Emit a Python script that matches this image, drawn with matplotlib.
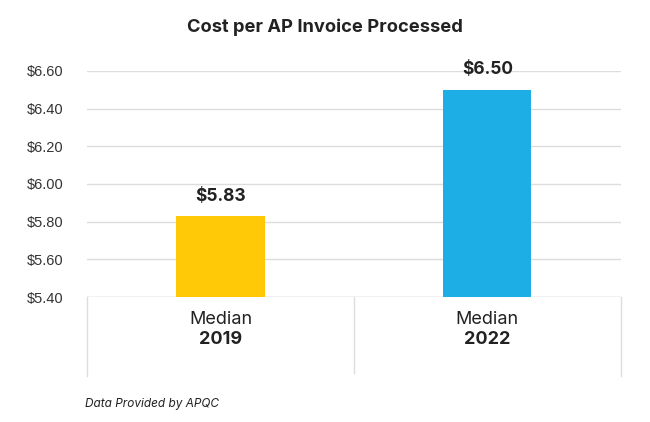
import matplotlib.pyplot as plt

categories = ['2019', '2022']
values = [5.83, 6.50]
value_labels = ['$5.83', '$6.50']
yticks = [5.40, 5.60, 5.80, 6.00, 6.20, 6.40, 6.60]
colors = ['#FFC907', '#1CAEE4']

fig = plt.figure(figsize=(6.5, 4.22), dpi=100)
ax = fig.add_axes([0.134, 0.296, 0.821, 0.536])

x = range(len(categories))
ax.bar(x, [v - yticks[0] for v in values], bottom=yticks[0], width=0.33,
       color=colors, zorder=3)

for i, (v, lab) in enumerate(zip(values, value_labels)):
    ax.text(i, v + 0.06, lab, ha='center', va='bottom', fontsize=12.5,
            fontweight='bold', family='Inter', color='#222222', clip_on=False)

ax.set_xlim(-0.5, 1.5)
ax.set_ylim(yticks[0], yticks[-1])
ax.set_yticks(yticks)
ax.set_yticklabels(['$%.2f' % t for t in yticks], family='Liberation Sans',
                   fontsize=10.5, color='#333333')
ax.tick_params(axis='y', length=0, pad=17)
ax.set_xticks([])
ax.grid(axis='y', color='#DDDDDD', linewidth=1, zorder=0)
for s in ax.spines.values():
    s.set_visible(False)

# category box below the axis
ax.axhline(yticks[0], color='#DDDDDD', linewidth=1, zorder=2)
for xb, ymin in [(-0.5, -0.35), (0.5, -0.335), (1.5, -0.35)]:
    ax.axvline(xb, ymin=ymin, ymax=0, color='#DDDDDD', linewidth=1, clip_on=False)

for i, cat in enumerate(categories):
    ax.text(i, -0.1, 'Median', transform=ax.get_xaxis_transform(), ha='center',
            va='center', fontsize=13, family='Inter', color='#222222')
    ax.text(i, -0.188, cat, transform=ax.get_xaxis_transform(), ha='center',
            va='center', fontsize=13, fontweight='bold', family='Inter', color='#222222')

fig.text(0.5, 0.935, 'Cost per AP Invoice Processed', ha='center', va='center',
         fontsize=13.2, fontweight='bold', family='Inter', color='#222222')
fig.text(0.131, 0.043, 'Data Provided by APQC', ha='left', va='center',
         fontsize=8.5, style='italic', family='Inter', color='#222222')

fig.savefig('out.png', dpi=100)
